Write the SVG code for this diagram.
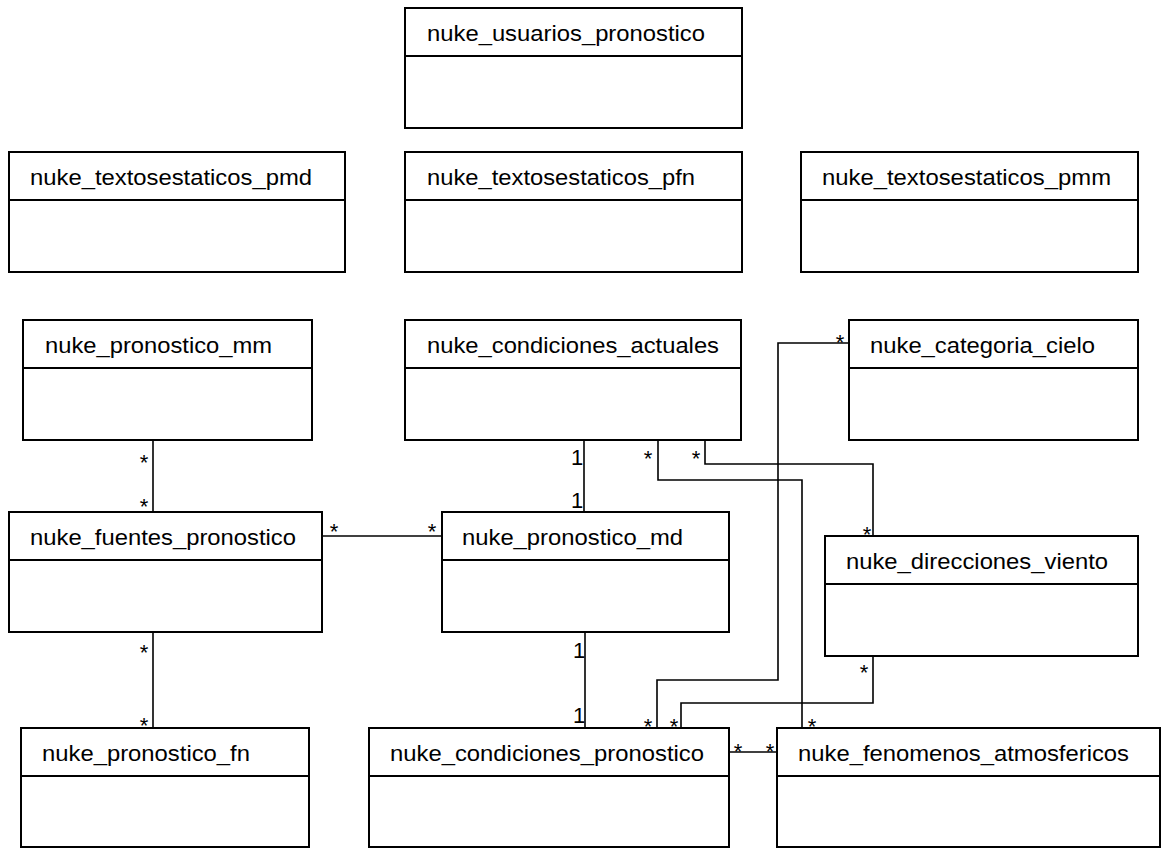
<svg xmlns="http://www.w3.org/2000/svg" width="1162" height="848" viewBox="0 0 1162 848">
<style>
.box{fill:#fff;stroke:#000;stroke-width:2}
.div{stroke:#000;stroke-width:2}
.t{font-family:"Liberation Sans",Arial,sans-serif;font-size:22px;fill:#000}
.c{fill:none;stroke:#000;stroke-width:1.6}
.m{font-family:"Liberation Sans",Arial,sans-serif;font-size:22px;fill:#000;text-anchor:middle}
</style>
<rect width="1162" height="848" fill="#fff"/>
<g id="connectors">
<polyline class="c" points="153,440 153,512"/>
<polyline class="c" points="322,536 442,536"/>
<polyline class="c" points="153,632 153,728"/>
<polyline class="c" points="584,440 584,512"/>
<polyline class="c" points="585,632 585,728"/>
<polyline class="c" points="658,440 658,480 802,480 802,728"/>
<polyline class="c" points="705,440 705,464 873,464 873,536"/>
<polyline class="c" points="849,343 778,343 778,680 657,680 657,728"/>
<polyline class="c" points="873,656 873,703 681,703 681,728"/>
<polyline class="c" points="729,752 777,752"/>
<text class="m" x="144" y="470">*</text>
<text class="m" x="144" y="514">*</text>
<text class="m" x="334" y="539">*</text>
<text class="m" x="432" y="539">*</text>
<text class="m" x="144" y="660">*</text>
<text class="m" x="144" y="733">*</text>
<text class="m" x="577" y="465">1</text>
<text class="m" x="577" y="508">1</text>
<text class="m" x="579" y="658">1</text>
<text class="m" x="579" y="723">1</text>
<text class="m" x="648" y="466">*</text>
<text class="m" x="696" y="466">*</text>
<text class="m" x="867" y="542">*</text>
<text class="m" x="812" y="734">*</text>
<text class="m" x="840" y="350">*</text>
<text class="m" x="648" y="734">*</text>
<text class="m" x="864" y="680">*</text>
<text class="m" x="674" y="734">*</text>
<text class="m" x="738" y="759">*</text>
<text class="m" x="770" y="759">*</text>
</g>
<g id="n_usuarios">
<rect class="box" x="405" y="8" width="337" height="120"/>
<line class="div" x1="405" y1="56" x2="742" y2="56"/>
<text class="t" x="427" y="41" textLength="278" lengthAdjust="spacingAndGlyphs">nuke_usuarios_pronostico</text>
</g>
<g id="n_pmd">
<rect class="box" x="9" y="152" width="336" height="120"/>
<line class="div" x1="9" y1="200" x2="345" y2="200"/>
<text class="t" x="30" y="185" textLength="282" lengthAdjust="spacingAndGlyphs">nuke_textosestaticos_pmd</text>
</g>
<g id="n_pfn">
<rect class="box" x="405" y="152" width="337" height="120"/>
<line class="div" x1="405" y1="200" x2="742" y2="200"/>
<text class="t" x="427" y="185" textLength="268" lengthAdjust="spacingAndGlyphs">nuke_textosestaticos_pfn</text>
</g>
<g id="n_pmm">
<rect class="box" x="801" y="152" width="337" height="120"/>
<line class="div" x1="801" y1="200" x2="1138" y2="200"/>
<text class="t" x="822" y="185" textLength="289" lengthAdjust="spacingAndGlyphs">nuke_textosestaticos_pmm</text>
</g>
<g id="n_pronostico_mm">
<rect class="box" x="23" y="320" width="289" height="120"/>
<line class="div" x1="23" y1="368" x2="312" y2="368"/>
<text class="t" x="45" y="353" textLength="227" lengthAdjust="spacingAndGlyphs">nuke_pronostico_mm</text>
</g>
<g id="n_condiciones_actuales">
<rect class="box" x="405" y="320" width="336" height="120"/>
<line class="div" x1="405" y1="368" x2="741" y2="368"/>
<text class="t" x="427" y="353" textLength="292" lengthAdjust="spacingAndGlyphs">nuke_condiciones_actuales</text>
</g>
<g id="n_categoria_cielo">
<rect class="box" x="849" y="320" width="289" height="120"/>
<line class="div" x1="849" y1="368" x2="1138" y2="368"/>
<text class="t" x="870" y="353" textLength="225" lengthAdjust="spacingAndGlyphs">nuke_categoria_cielo</text>
</g>
<g id="n_fuentes">
<rect class="box" x="9" y="512" width="313" height="120"/>
<line class="div" x1="9" y1="560" x2="322" y2="560"/>
<text class="t" x="30" y="545" textLength="266" lengthAdjust="spacingAndGlyphs">nuke_fuentes_pronostico</text>
</g>
<g id="n_pronostico_md">
<rect class="box" x="442" y="512" width="287" height="120"/>
<line class="div" x1="442" y1="560" x2="729" y2="560"/>
<text class="t" x="462" y="545" textLength="221" lengthAdjust="spacingAndGlyphs">nuke_pronostico_md</text>
</g>
<g id="n_direcciones">
<rect class="box" x="825" y="536" width="313" height="120"/>
<line class="div" x1="825" y1="584" x2="1138" y2="584"/>
<text class="t" x="846" y="569" textLength="262" lengthAdjust="spacingAndGlyphs">nuke_direcciones_viento</text>
</g>
<g id="n_pronostico_fn">
<rect class="box" x="21" y="728" width="288" height="119"/>
<line class="div" x1="21" y1="776" x2="309" y2="776"/>
<text class="t" x="42" y="761" textLength="208" lengthAdjust="spacingAndGlyphs">nuke_pronostico_fn</text>
</g>
<g id="n_condiciones_pronostico">
<rect class="box" x="369" y="728" width="360" height="119"/>
<line class="div" x1="369" y1="776" x2="729" y2="776"/>
<text class="t" x="390" y="761" textLength="314" lengthAdjust="spacingAndGlyphs">nuke_condiciones_pronostico</text>
</g>
<g id="n_fenomenos">
<rect class="box" x="777" y="728" width="383" height="119"/>
<line class="div" x1="777" y1="776" x2="1160" y2="776"/>
<text class="t" x="798" y="761" textLength="331" lengthAdjust="spacingAndGlyphs">nuke_fenomenos_atmosfericos</text>
</g>
</svg>
